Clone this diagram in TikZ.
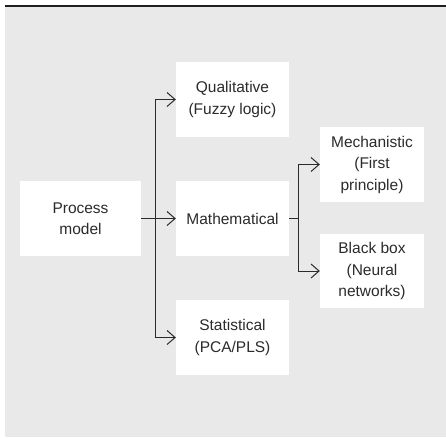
\documentclass[tikz,border=0pt]{standalone}
\usepackage{fontspec}
\setmainfont{Liberation Sans}
\usetikzlibrary{arrows.meta}
\definecolor{panelgray}{HTML}{E9E9E9}
\definecolor{ink}{HTML}{2B2B2B}
\definecolor{rule}{HTML}{1E1E1E}
\begin{document}
\begin{tikzpicture}[x=1pt,y=-1pt,
  box/.style={fill=white, draw=none, inner sep=0pt, align=center, text=ink,
    font=\fontsize{15.5}{21.5}\selectfont},
  link/.style={draw=ink, line width=1pt},
  tip/.style={link, -{Straight Barb[length=8pt,width=14pt,line width=1pt]}}]
  \useasboundingbox (0,0) rectangle (446,437);
  % panel and rule along its top
  \fill[panelgray] (5,6) rectangle (446,437);
  \draw[rule, line width=1.6pt] (5,5.8) -- (446,5.8);

  % boxes
  \node[box, minimum width=121pt, minimum height=75pt] (pm)   at (80.5,218.5) {Process\\model};
  \node[box, minimum width=113pt, minimum height=75pt] (qual) at (232.5,99.5) {Qualitative\\(Fuzzy logic)};
  \node[box, minimum width=113pt, minimum height=75pt] (math) at (232.5,218.5) {Mathematical};
  \node[box, minimum width=113pt, minimum height=75pt] (stat) at (232.5,337.5) {Statistical\\(PCA/PLS)};
  \node[box, minimum width=104pt, minimum height=75pt] (mech) at (372,164.5) {Mechanistic\\(First\\principle)};
  \node[box, minimum width=104pt, minimum height=74pt] (bb)   at (372,271) {Black box\\(Neural\\networks)};

  % branch points
  \coordinate (ja) at (155,218.5);
  \coordinate (jb) at (298,218.5);

  % first level
  \draw[link] (pm.east) -- (ja);
  \draw[tip] (ja) |- (qual.west);
  \draw[tip] (ja) -- (math.west);
  \draw[tip] (ja) |- (stat.west);

  % second level
  \draw[link] (math.east) -- (jb);
  \draw[tip] (jb) |- (mech.west);
  \draw[tip] (jb) |- (bb.west);
\end{tikzpicture}
\end{document}
